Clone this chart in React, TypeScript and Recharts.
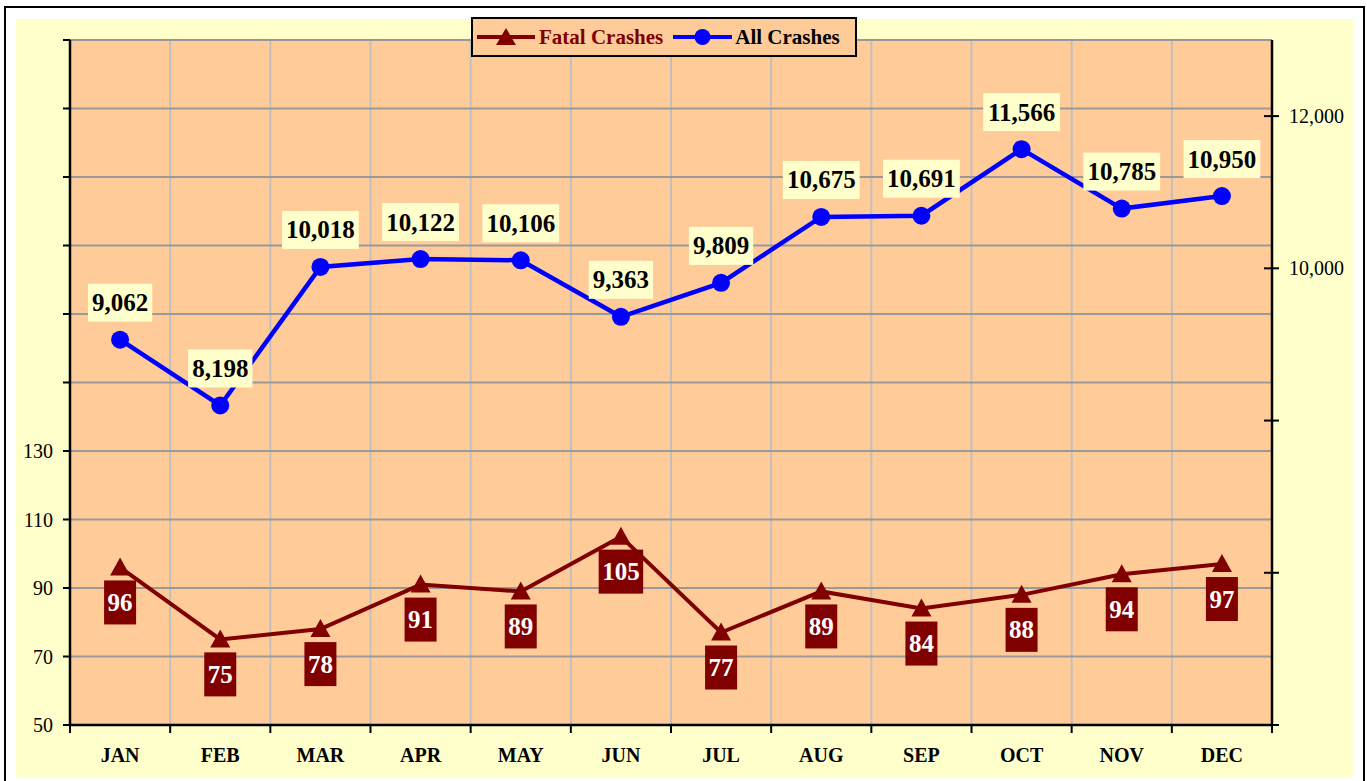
import React from 'react';
import { ComposedChart, Line, XAxis, YAxis, CartesianGrid, Legend, LabelList } from 'recharts';

const MONTHS = ['JAN', 'FEB', 'MAR', 'APR', 'MAY', 'JUN', 'JUL', 'AUG', 'SEP', 'OCT', 'NOV', 'DEC'];
const FATAL = [96, 75, 78, 91, 89, 105, 77, 89, 84, 88, 94, 97];
const ALL = [9062, 8198, 10018, 10122, 10106, 9363, 9809, 10675, 10691, 11566, 10785, 10950];
const LEFT_TICKS = [50, 70, 90, 110, 130, 150, 170, 190, 210, 230, 250];
const LEFT_LABELLED = [50, 70, 90, 110, 130];
const RIGHT_TICKS = [4000, 6000, 8000, 10000, 12000];
const RIGHT_LABELLED = [10000, 12000];

const data = MONTHS.map((m, i) => ({ month: m, fatal: FATAL[i], all: ALL[i] }));

const FONT = '"Liberation Serif", "Times New Roman", serif';
const DARK_RED = '#800000';
const BLUE = '#0000FF';
const PEACH = '#FFCC99';
const CREAM = '#FFFFCC';

const fmt = (v: number) => v.toLocaleString('en-US');
const textW = (s: string, fs: number) =>
  s.split('').reduce((a, c) => a + (c === ',' ? 0.25 : 0.5), 0) * fs;

const Triangle = (props: any) => {
  const { cx, cy, index } = props;
  if (cx == null || cy == null) return <g key={`t-${index}`} />;
  return (
    <path
      key={`t-${index}`}
      d={`M${cx},${cy - 10} L${cx + 10},${cy + 8} L${cx - 10},${cy + 8} Z`}
      fill={DARK_RED}
    />
  );
};

const FatalLabel = (props: any) => {
  const { x, y, value, index } = props;
  const s = String(value);
  const w = textW(s, 25) + 7;
  const cy = y + 35;
  return (
    <g key={`fl-${index}`}>
      <rect x={x - w / 2} y={cy - 22} width={w} height={44} fill={DARK_RED} />
      <text x={x} y={cy} textAnchor="middle" dominantBaseline="central" fill="#fff"
        fontFamily={FONT} fontWeight="bold" fontSize={25}>{s}</text>
    </g>
  );
};

const AllLabel = (props: any) => {
  const { x, y, value, index } = props;
  const s = fmt(value);
  const w = textW(s, 25) + 8;
  const cy = y - 37;
  return (
    <g key={`al-${index}`}>
      <rect x={x - w / 2} y={cy - 19} width={w} height={38} fill={CREAM} />
      <text x={x} y={cy} textAnchor="middle" dominantBaseline="central" fill="#000"
        fontFamily={FONT} fontWeight="bold" fontSize={25}>{s}</text>
    </g>
  );
};

const LeftTick = (props: any) => {
  const { x, y, payload } = props;
  if (!LEFT_LABELLED.includes(payload.value)) return <g />;
  return (
    <text x={x} y={y} textAnchor="end" dominantBaseline="central" fill="#000"
      fontFamily={FONT} fontSize={20}>{payload.value}</text>
  );
};

const RightTick = (props: any) => {
  const { x, y, payload } = props;
  return (
    <g>
      <line x1={x - 25} y1={y} x2={x - 17} y2={y} stroke="#000" strokeWidth={2} />
      {RIGHT_LABELLED.includes(payload.value) && (
        <text x={x} y={y} textAnchor="start" dominantBaseline="central" fill="#000"
          fontFamily={FONT} fontSize={20}>{fmt(payload.value)}</text>
      )}
    </g>
  );
};

const MonthTick = (props: any) => {
  const { x, y, payload, index, visibleTicksCount, width } = props;
  const count = visibleTicksCount || MONTHS.length;
  const band = (typeof width === 'number' ? width : 1202) / count;
  const axisY = y - 23;
  return (
    <g>
      <line x1={x - band / 2} y1={axisY} x2={x - band / 2} y2={axisY + 8} stroke="#000" strokeWidth={2} />
      {index === count - 1 && (
        <line x1={x + band / 2} y1={axisY} x2={x + band / 2} y2={axisY + 8} stroke="#000" strokeWidth={2} />
      )}
      <text x={x} y={y} dy="0.71em" textAnchor="middle" fill="#000"
        fontFamily={FONT} fontWeight="bold" fontSize={20}>{payload.value}</text>
    </g>
  );
};

const verticalBounds = ({ offset }: any) => {
  const n = MONTHS.length;
  return MONTHS.concat(['']).map((_, i) => offset.left + (offset.width * i) / n);
};

const LegendBox = () => (
  <div style={{ position: 'relative', height: 0, width: 0 }}>
    <div
      style={{
        position: 'absolute', left: 471, top: 17, width: 386, height: 40,
        boxSizing: 'border-box', border: '2px solid #000', background: PEACH,
        display: 'flex', alignItems: 'center', fontFamily: FONT, fontWeight: 'bold',
        fontSize: 21, whiteSpace: 'nowrap', lineHeight: '20px',
      }}
    >
      <svg width={58} height={22} style={{ marginLeft: 4, display: 'block' }}>
        <line x1={0} y1={11} x2={58} y2={11} stroke={DARK_RED} strokeWidth={4} />
        <path d="M29,2 L39,19 L19,19 Z" fill={DARK_RED} />
      </svg>
      <span style={{ color: DARK_RED, marginLeft: 4 }}>Fatal Crashes</span>
      <svg width={59} height={22} style={{ marginLeft: 10, display: 'block' }}>
        <line x1={0} y1={11} x2={59} y2={11} stroke={BLUE} strokeWidth={4} />
        <circle cx={29.5} cy={11} r={8} fill={BLUE} />
      </svg>
      <span style={{ color: '#000', marginLeft: 3 }}>All Crashes</span>
    </div>
  </div>
);

export default function App() {
  return (
    <div style={{ position: 'absolute', left: 0, top: 0, width: 1367, height: 781, background: '#fff', overflow: 'hidden' }}>
      <div style={{ position: 'absolute', left: 4, top: 6, width: 1361, height: 820, boxSizing: 'border-box', border: '2px solid #000' }} />
      <div style={{ position: 'absolute', left: 16, top: 19, width: 1337, height: 758, background: CREAM }} />
      <div style={{ position: 'absolute', left: 0, top: 0 }}>
        <ComposedChart
          width={1367}
          height={781}
          data={data}
          margin={{ top: 40, right: 0, bottom: 10, left: 0 }}
          style={{ fontFamily: FONT }}
        >
          <CartesianGrid xAxisId="cat" yAxisId="left" horizontal={false} vertical
            verticalCoordinatesGenerator={verticalBounds}
            stroke="#C0C0C0" strokeWidth={2} fill={PEACH} fillOpacity={1} />
          <CartesianGrid xAxisId="cat" yAxisId="left" horizontal vertical={false} stroke="#999999" strokeWidth={2} />
          <XAxis
            xAxisId="cat"
            dataKey="month"
            scale="band"
            height={46}
            axisLine={{ stroke: '#000', strokeWidth: 2.5 }}
            tickLine={false}
            tickSize={8}
            tickMargin={15}
            tick={<MonthTick />}
            interval={0}
          />
          <YAxis
            yAxisId="left"
            orientation="left"
            width={70}
            domain={[50, 250]}
            ticks={LEFT_TICKS}
            allowDataOverflow
            interval={0}
            axisLine={{ stroke: '#000', strokeWidth: 2.5 }}
            tickLine={{ stroke: '#000', strokeWidth: 2 }}
            tickSize={7}
            tickMargin={10}
            tick={<LeftTick />}
          />
          <YAxis
            yAxisId="right"
            orientation="right"
            width={95}
            domain={[4000, 13000]}
            ticks={RIGHT_TICKS}
            allowDataOverflow
            interval={0}
            axisLine={{ stroke: '#000', strokeWidth: 2.5 }}
            tickLine={{ stroke: '#000', strokeWidth: 2 }}
            tickSize={7}
            tickMargin={10}
            tick={<RightTick />}
          />
          <Legend verticalAlign="top" wrapperStyle={{ left: 0, top: 0, width: 1367, height: 0, margin: 0, padding: 0 }} content={() => <LegendBox />} />
          <Line
            xAxisId="cat"
            yAxisId="left"
            type="linear"
            dataKey="fatal"
            name="Fatal Crashes"
            stroke={DARK_RED}
            strokeWidth={4}
            dot={(p: any) => <Triangle key={`tri-${p.index}`} {...p} />}
            activeDot={false}
            isAnimationActive={false}
          >
            <LabelList dataKey="fatal" content={(p: any) => <FatalLabel {...p} />} />
          </Line>
          <Line
            xAxisId="cat"
            yAxisId="right"
            type="linear"
            dataKey="all"
            name="All Crashes"
            stroke={BLUE}
            strokeWidth={4.5}
            dot={{ r: 9, fill: BLUE, stroke: 'none' }}
            activeDot={false}
            isAnimationActive={false}
          >
            <LabelList dataKey="all" content={(p: any) => <AllLabel {...p} />} />
          </Line>
        </ComposedChart>
      </div>
    </div>
  );
}
